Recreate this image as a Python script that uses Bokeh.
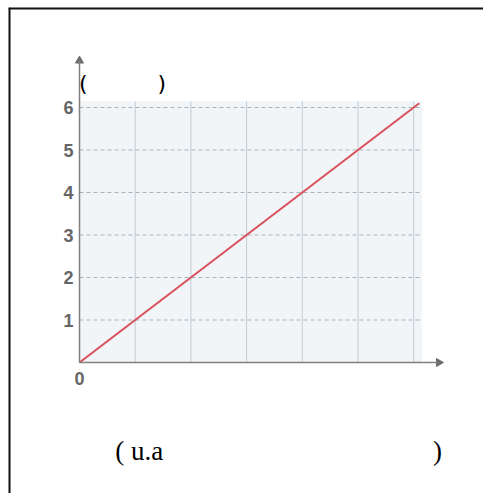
from bokeh.plotting import figure
from bokeh.models import Range1d, FixedTicker, Label, Span
from bokeh.embed import file_html
from bokeh.resources import INLINE

# data
line_x = [0, 6.1]
line_y = [0, 6.1]
y_ticks = [1, 2, 3, 4, 5, 6]
x_ticks = [0]
x_tick_labels = {0: "0"}
x_grid = [1, 2, 3, 4, 5, 6]
grid_extent = 6.15
top_text = "(" + "\u00a0" * 10 + ")"
bottom_text = "( u.a" + "\u00a0" * 40 + ")"

W, H = 475, 486
PX_X, PX_Y = 55.7, 42.5      # pixels per data unit
X0, Y0 = 71, 355             # canvas position of origin
XSTART = -X0 / PX_X
YSTART = -(H - Y0) / PX_Y
XEND = XSTART + W / PX_X
YEND = YSTART + H / PX_Y
X_AXIS_END = 6.45
Y_AXIS_END = 7.1

p = figure(width=W, height=H, output_backend="svg", toolbar_location=None,
           x_range=Range1d(XSTART, XEND), y_range=Range1d(YSTART, YEND),
           min_border=0)
p.styles = {"margin-left": "8px", "margin-top": "7px"}
p.outline_line_color = None
p.background_fill_color = "white"
p.border_fill_color = "white"
p.xgrid.visible = False
p.ygrid.visible = False

# box border (top and left edges)
p.add_layout(Span(location=XSTART, dimension="height", line_color="#111", line_width=4))
p.add_layout(Span(location=YEND, dimension="width", line_color="#111", line_width=4))

# grid region background
p.quad(left=[0], right=[grid_extent], bottom=[0], top=[grid_extent],
       fill_color="#f1f5f8", line_color=None)
# grid lines
p.segment(x0=x_grid, y0=[0]*len(x_grid), x1=x_grid, y1=[grid_extent]*len(x_grid),
          line_color="#c3ccd3", line_width=1)
p.segment(x0=[0]*len(y_ticks), y0=y_ticks, x1=[grid_extent]*len(y_ticks), y1=y_ticks,
          line_color="#a9b3bb", line_width=1.2, line_dash="4 3")

p.line(line_x, line_y, line_color="#d9505a", line_width=2)

# arrow heads at axis ends
p.scatter(x=[0], y=[Y_AXIS_END], marker="triangle", size=8, fill_color="#6a6a6a", line_color="#6a6a6a")
p.scatter(x=[X_AXIS_END], y=[0], marker="triangle", angle=-1.5708, size=8,
          fill_color="#6a6a6a", line_color="#6a6a6a")

for axis, ticks in ((p.yaxis[0], y_ticks), (p.xaxis[0], x_ticks)):
    axis.fixed_location = 0
    axis.ticker = FixedTicker(ticks=ticks)
    axis.axis_line_color = "#808080"
    axis.axis_line_width = 1.5
    axis.major_tick_line_color = None
    axis.minor_tick_line_color = None
    axis.major_tick_out = 0
    axis.major_tick_in = 0
    axis.minor_tick_out = 0
    axis.major_label_text_font = "Liberation Sans"
    axis.major_label_text_font_size = "18px"
    axis.major_label_text_font_style = "bold"
    axis.major_label_text_color = "#666666"

p.yaxis[0].bounds = (0, Y_AXIS_END)
p.yaxis[0].major_label_standoff = 6
p.xaxis[0].bounds = (0, X_AXIS_END)
p.xaxis[0].major_label_overrides = x_tick_labels
p.xaxis[0].major_label_standoff = 9
p.xaxis[0].major_label_text_align = "right"

p.add_layout(Label(x=-0.01, y=6.56, text=top_text, text_font="DejaVu Sans",
                   text_font_size="22px", text_color="black", text_baseline="middle"))
p.add_layout(Label(x=0.64, y=-2.09, text=bottom_text, text_font="Liberation Serif",
                   text_font_size="27px", text_color="black", text_baseline="middle"))

open("out.html", "w").write(file_html(p, INLINE))
